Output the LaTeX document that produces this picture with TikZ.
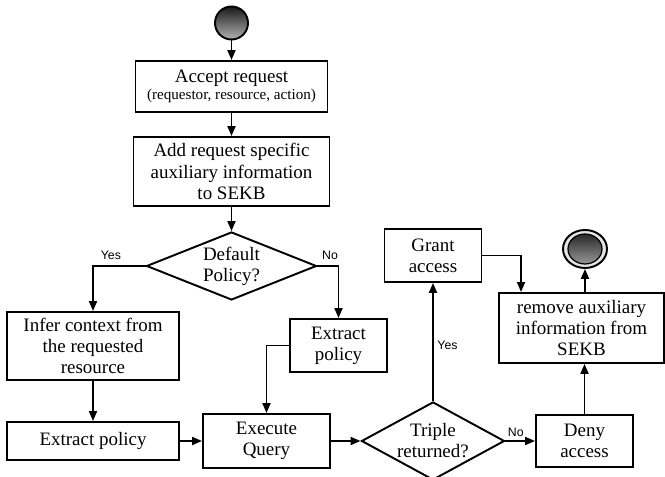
\documentclass[tikz,border=0pt]{standalone}
\usepackage{fontspec}
\setmainfont{Liberation Serif}
\newfontfamily\lblfont{Liberation Sans}
\usepackage{tikz}
\usetikzlibrary{arrows.meta,positioning,shapes.geometric,calc}
\newcommand{\flw}[2]{\draw[->] (#1) -- (#2)}

\begin{document}
\begin{tikzpicture}[
      >={Triangle[length=2mm,width=1.6mm]},
      line width=1.1pt,
      node distance=1.9cm,
      process/.style={rectangle,draw=black,line width=1.1pt,align=center,inner sep=2pt,font=\fontsize{10.8}{12}\selectfont},
      decision/.style={diamond,draw=black,line width=1.1pt,align=center,inner sep=-4pt,font=\fontsize{10.8}{12}\selectfont},
      answer/.style={font=\lblfont\fontsize{7}{8}\selectfont,inner sep=1pt}]

      \useasboundingbox (0,0) rectangle (13.3,9.54);

      % Define nodes
      \node[circle,draw,minimum size=6.6mm,top color=black!90,bottom color=black!30] (start) at (4.63,9.08) {};
      \node[process,below of=start,node distance=1.27cm,minimum width=3.84cm,minimum height=1.02cm] (accept) {Accept request\\[-2pt]{\fontsize{8.6}{10}\selectfont(requestor, resource, action)}};
      \node[process,below of=accept,node distance=1.70cm,minimum width=3.92cm,minimum height=1.38cm] (addinfo) {Add request specific\\auxiliary information\\to SEKB};
      \node[decision,below of=addinfo,node distance=1.89cm,minimum width=3.4cm,minimum height=1.36cm] (default) {Default\\Policy?};
      \node[process,minimum width=3.44cm,minimum height=1.36cm] (infer) at (1.86,2.62) {Infer context from\\the requested\\resource};
      \node[process,below of=infer,minimum width=3.44cm,minimum height=0.76cm] (extractA) {Extract policy};
      \node[process,minimum width=1.94cm,minimum height=1.06cm] (extractB) at (6.77,2.63) {Extract\\policy};
      \node[process,right of=extractA,node distance=3.47cm,minimum width=2.54cm,minimum height=1.08cm] (execute) {Execute\\Query};
      \node[decision,right of=execute,node distance=3.33cm,minimum width=2.86cm,minimum height=1.34cm] (triple) {Triple\\returned?};
      \node[process,right of=triple,node distance=3.03cm,minimum width=1.94cm,minimum height=1.04cm] (deny) {Deny\\access};
      \node[process,above of=triple,node distance=3.71cm,minimum width=1.94cm,minimum height=1.06cm] (grant) {Grant\\access};
      \node[process,minimum width=3.3cm,minimum height=1.4cm] (remove) at (11.63,2.98) {remove auxiliary\\information from\\SEKB};
      \node[ellipse,draw,minimum width=8.8mm,minimum height=7.6mm,fill=black!10,
            path picture={\shade[top color=black!90,bottom color=black!35] (path picture bounding box.center) ellipse (3.4mm and 3mm);
                          \draw[line width=0.7pt] (path picture bounding box.center) ellipse (3.4mm and 3mm);}] (stop) at (11.70,4.56) {};

      % Draw paths
      \flw{start}{accept};
      \flw{accept}{addinfo};
      \flw{addinfo}{default};
      \draw[->] (default.west) -| node[answer,above=2pt,pos=0.33]{Yes} (infer.north);
      \draw[->] (default.east) -| node[answer,above=2pt,pos=0.3]{No} (extractB.north);
      \flw{infer}{extractA};
      \flw{extractA}{execute};
      \draw[->] (extractB.west) -| (execute.north);
      \flw{execute}{triple};
      \draw[->] (triple) -- node[answer,right=1pt,pos=0.47]{Yes} (grant);
      \draw[->] (triple) -- node[answer,above=1pt,pos=0.35]{No} (deny);
      \draw[->] (grant.east) -| ([xshift=4.6mm]remove.north west);
      \draw[->] (deny) -- (deny |- remove.south);
      \draw[->] (remove.north -| stop) -- (stop);

\end{tikzpicture}
\end{document}
